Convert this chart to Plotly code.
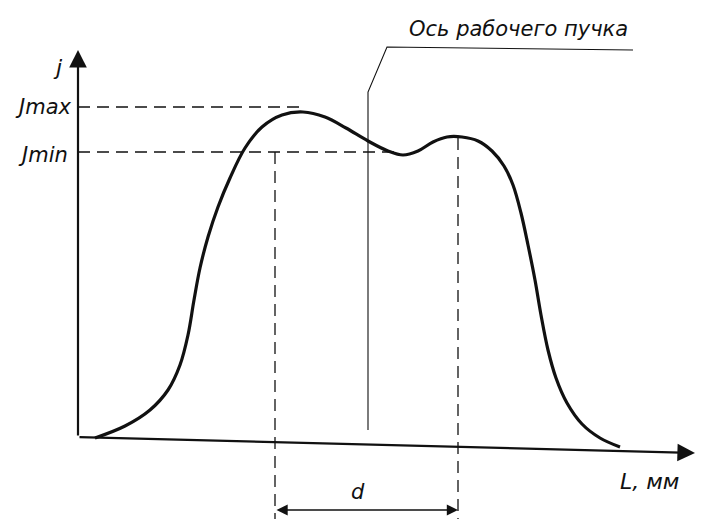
import plotly.graph_objects as go

# Current-density profile j(L) across the beam (drawing units)
L_curve = [17, 47, 72, 90, 102, 110, 116, 122, 130, 140, 152, 167, 184, 204,
           225, 247, 268, 290, 310, 325, 340, 355, 369, 384, 400, 414, 426, 435,
           443, 450, 457, 463, 470, 478, 489, 504, 522, 542]
j_curve = [-1, 11, 27, 47, 72, 102, 137, 169, 200, 230, 259, 289, 310, 322,
           325, 320, 309, 296, 286, 282, 286, 295, 300, 300, 296, 286, 271, 252,
           224, 192, 157, 122, 87, 59, 34, 13, -1, -10]

j_max = 330          # level of Jmax dashed line
j_min = 285          # level of Jmin dashed line
L_jmax_end = 222     # Jmax leader ends at the first peak
L_jmin_end = 322     # Jmin leader ends at the dip
d_left = 197         # left boundary of d
d_right = 380        # right boundary of d
j_right_top = 299    # top of right boundary line
L_beam = 290         # working beam axis
beam_top = 345
beam_bottom = 7
leader_knee = (309, 390)
leader_end = 555
x_axis_end = (617, -16)
y_axis_top = 387
d_level = -73
bottom = -82

ink = "#111111"
font = dict(family="DejaVu Sans", size=19, color=ink, style="italic")

fig = go.Figure()
fig.add_trace(go.Scatter(x=L_curve, y=j_curve, mode="lines",
                         line=dict(color=ink, width=3.2, shape="spline", smoothing=1.0),
                         hoverinfo="skip", showlegend=False))

dash = "12px,7px"
lines = [
    ([0, L_jmax_end], [j_max, j_max], dash, 1.3),
    ([0, L_jmin_end], [j_min, j_min], dash, 1.3),
    ([d_left, d_left], [j_min, bottom], dash, 1.3),
    ([d_right, d_right], [j_right_top, bottom], dash, 1.3),
    ([L_beam, L_beam, leader_knee[0], leader_end],
     [beam_bottom, beam_top, leader_knee[1], leader_knee[1] - 3], "solid", 1.1),
]
for xs, ys, ds, w in lines:
    fig.add_trace(go.Scatter(x=xs, y=ys, mode="lines",
                             line=dict(color=ink, width=w, dash=ds),
                             hoverinfo="skip", showlegend=False))

anns = []
# axes with arrowheads
anns.append(dict(x=0, y=y_axis_top, ax=0, ay=0, xref="x", yref="y", axref="x", ayref="y",
                 showarrow=True, arrowhead=2, arrowsize=1.6, arrowwidth=2.2, arrowcolor=ink, text=""))
anns.append(dict(x=x_axis_end[0], y=x_axis_end[1], ax=0, ay=0, xref="x", yref="y", axref="x", ayref="y",
                 showarrow=True, arrowhead=2, arrowsize=1.6, arrowwidth=2.2, arrowcolor=ink, text=""))
# d dimension arrow
anns.append(dict(x=d_right, y=d_level, ax=d_left, ay=d_level, xref="x", yref="y", axref="x", ayref="y",
                 showarrow=True, arrowhead=2, arrowside="end+start", arrowsize=1.4, arrowwidth=1.6,
                 arrowcolor=ink, text=""))

labels = [
    ("j", -20, 370, 22),
    ("Jmax", -35, 330, 21),
    ("Jmin", -35, 282, 21),
    ("Ось рабочего пучка", 440, 408, 21),
    ("d", 280, -55, 21),
    ("L, мм", 571, -44, 22),
]
for t, x, y, s in labels:
    anns.append(dict(x=x, y=y, xref="x", yref="y", text=t, showarrow=False,
                     font=dict(font, size=s), xanchor="center", yanchor="middle"))

# the page adds an 8px body margin, so the ranges are offset by 8px
fig.update_layout(
    width=703, height=519,
    margin=dict(l=0, r=0, t=0, b=0),
    paper_bgcolor="white", plot_bgcolor="white",
    xaxis=dict(range=[-70, 633], visible=False, fixedrange=True),
    yaxis=dict(range=[-90, 429], visible=False, fixedrange=True),
    annotations=anns,
    showlegend=False,
)
fig.write_html("out.html")
